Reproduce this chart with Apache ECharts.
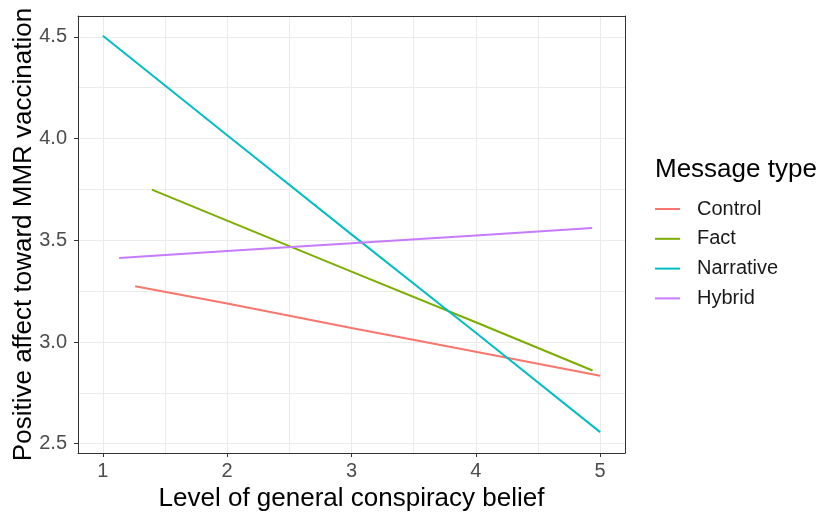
<!DOCTYPE html>
<html>
<head>
<meta charset="utf-8">
<script src="https://cdn.jsdelivr.net/npm/echarts@6/dist/echarts.min.js"></script>
<style>
  html, body { margin: 0; padding: 0; background: #fff; }
  #chart { width: 817px; height: 516px; }
</style>
</head>
<body>
<div id="chart"></div>
<script>
// 读图得到的数据 (x = conspiracy belief, y = positive affect)
var groups = ['Control', 'Fact', 'Narrative', 'Hybrid'];
var colors = ['#F8766D', '#7CAE00', '#00BFC4', '#C77CFF'];
var controlPts = [[1.26, 3.274], [2, 3.189], [3, 3.069], [4, 2.952], [5, 2.834]];
var factPts = [[1.394, 3.749], [2, 3.597], [3, 3.346], [4, 3.097], [4.939, 2.86]];
var narrativePts = [[1, 4.505], [2, 4.016], [3, 3.529], [4, 3.046], [5, 2.557]];
var hybridPts = [[1.131, 3.413], [2, 3.447], [3, 3.485], [4, 3.524], [4.936, 3.56]];

var FONT = 'Liberation Sans, Arial, sans-serif';
var X_RANGE = [0.8, 5.2];
var Y_RANGE = [2.4545, 4.6025];

var chart = echarts.init(document.getElementById('chart'));

var allData = [controlPts, factPts, narrativePts, hybridPts];
var series = groups.map(function (name, i) {
    return {
        name: name,
        type: 'line',
        data: allData[i],
        showSymbol: false,
        symbol: 'none',
        lineStyle: { width: 2, color: colors[i] },
        itemStyle: { color: colors[i] }
    };
});

// 面板边框：上/右两条只画轴线
var frameAxis = function (range) {
    return {
        type: 'value', min: range[0], max: range[1],
        axisLine: { show: true, lineStyle: { color: '#333333', width: 1 } },
        axisTick: { show: false }, axisLabel: { show: false },
        splitLine: { show: false }
    };
};

var option = {
    animation: false,
    grid: { left: 78, top: 16, right: 192, bottom: 63, outerBoundsMode: 'none', containLabel: false },
    xAxis: [{
        type: 'value',
        min: X_RANGE[0], max: X_RANGE[1],
        splitNumber: 5,
        name: 'Level of general conspiracy belief',
        nameLocation: 'middle',
        nameGap: 33,
        nameMoveOverlap: false,
        nameTextStyle: { color: '#000', fontSize: 26, fontFamily: FONT },
        axisLine: { show: true, onZero: false, lineStyle: { color: '#333333', width: 1 } },
        axisTick: { show: true, length: 4, lineStyle: { color: '#333333' } },
        axisLabel: {
            color: '#4D4D4D', fontSize: 20, fontFamily: FONT, margin: 8,
            showMinLabel: false, showMaxLabel: false
        },
        splitLine: { show: true, lineStyle: { color: '#EBEBEB', width: 1 } },
        minorTick: { show: false, splitNumber: 2 },
        minorSplitLine: { show: true, lineStyle: { color: '#EBEBEB', width: 1 } }
    }, Object.assign(frameAxis(X_RANGE), { position: 'top' })],
    yAxis: [{
        type: 'value',
        min: Y_RANGE[0], max: Y_RANGE[1],
        splitNumber: 4,
        name: 'Positive affect toward MMR vaccination',
        nameLocation: 'middle',
        nameGap: 41,
        nameMoveOverlap: false,
        nameRotate: 90,
        nameTextStyle: { color: '#000', fontSize: 26, fontFamily: FONT },
        axisLine: { show: true, onZero: false, lineStyle: { color: '#333333', width: 1 } },
        axisTick: { show: true, length: 4, lineStyle: { color: '#333333' } },
        axisLabel: {
            color: '#4D4D4D', fontSize: 20, fontFamily: FONT, margin: 11,
            showMinLabel: false, showMaxLabel: false,
            formatter: function (v) { return v.toFixed(1); }
        },
        splitLine: { show: true, lineStyle: { color: '#EBEBEB', width: 1 } },
        minorTick: { show: false, splitNumber: 2 },
        minorSplitLine: { show: true, lineStyle: { color: '#EBEBEB', width: 1 } }
    }, Object.assign(frameAxis(Y_RANGE), { position: 'right' })],
    title: {
        text: 'Message type',
        left: 655, top: 157, padding: 0,
        textStyle: { color: '#000', fontSize: 26, fontWeight: 'normal', fontFamily: FONT }
    },
    legend: {
        orient: 'vertical',
        left: 650, top: 194,
        icon: 'rect',
        itemWidth: 25, itemHeight: 2,
        itemGap: 9.8,
        data: groups,
        textStyle: {
            color: '#1A1A1A', fontSize: 20, fontFamily: FONT,
            lineHeight: 20, padding: [0, 0, 0, 12]
        }
    },
    series: series
};

chart.setOption(option);
</script>
</body>
</html>
